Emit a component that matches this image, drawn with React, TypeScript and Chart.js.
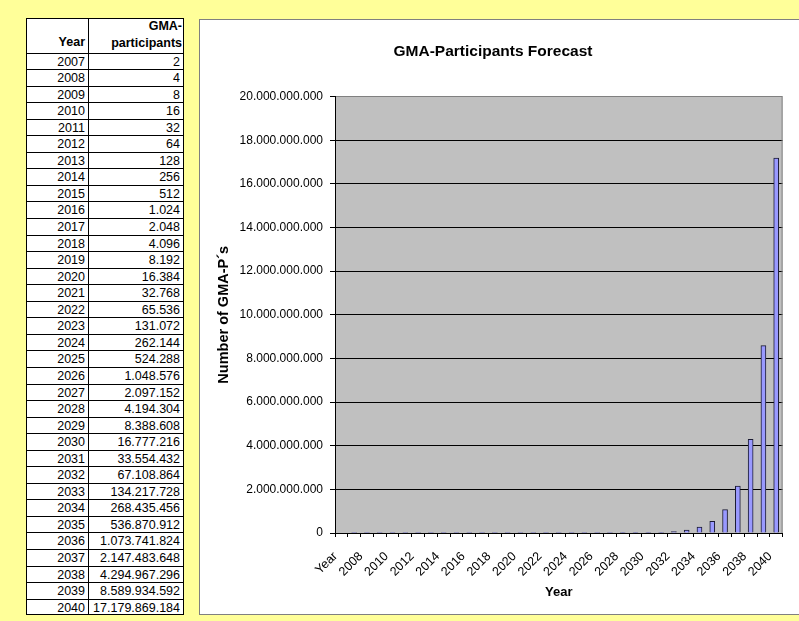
import React, { useEffect, useRef } from 'react';
import { Chart, registerables } from 'chart.js';

Chart.register(...registerables);

const years = [
  '2007', '2008', '2009', '2010', '2011', '2012', '2013', '2014', '2015', '2016',
  '2017', '2018', '2019', '2020', '2021', '2022', '2023', '2024', '2025', '2026',
  '2027', '2028', '2029', '2030', '2031', '2032', '2033', '2034', '2035', '2036',
  '2037', '2038', '2039', '2040',
];

const participants = [
  2, 4, 8, 16, 32, 64, 128, 256, 512, 1024,
  2048, 4096, 8192, 16384, 32768, 65536, 131072, 262144, 524288, 1048576,
  2097152, 4194304, 8388608, 16777216, 33554432, 67108864, 134217728, 268435456, 536870912, 1073741824,
  2147483648, 4294967296, 8589934592, 17179869184,
];

// The chart's category axis starts with the header cell "Year" (no value)
const headerYear = 'Year';
const headerValue = ['GMA-', 'participants'];
const categories = [headerYear, ...years];
const barValues: (number | null)[] = [null, ...participants];

const yMin = 0;
const yMax = 20000000000;
const yStep = 2000000000;

const chartTitle = 'GMA-Participants Forecast';
const xTitle = 'Year';
const yTitle = 'Number of GMA-P´s';

const FONT = "'Liberation Sans', Arial, sans-serif";

const fmt = (n: number) => String(Math.round(n)).replace(/\B(?=(\d{3})+(?!\d))/g, '.');

const plotArea = {
  id: 'plotArea',
  beforeDraw(chart: any) {
    const { ctx, chartArea } = chart;
    const { left, top, right, bottom } = chartArea;
    ctx.save();
    ctx.fillStyle = '#C0C0C0';
    ctx.fillRect(left, top, right - left, bottom - top);
    ctx.restore();
  },
  beforeDatasetsDraw(chart: any) {
    const { ctx, chartArea } = chart;
    const { top, right, bottom } = chartArea;
    ctx.save();
    ctx.strokeStyle = '#808080';
    ctx.lineWidth = 1;
    ctx.beginPath();
    ctx.moveTo(right - 0.5, top);
    ctx.lineTo(right - 0.5, bottom);
    ctx.stroke();
    ctx.restore();
  },
};

function ChartBox() {
  const ref = useRef<HTMLCanvasElement | null>(null);
  useEffect(() => {
    if (!ref.current) return;
    const chart = new Chart(ref.current, {
      type: 'bar',
      data: {
        labels: categories,
        datasets: [
          {
            data: barValues as any,
            backgroundColor: '#9999FF',
            borderColor: '#1A1A33',
            borderWidth: 1,
            barThickness: 5,
            barPercentage: 0.4,
            categoryPercentage: 1.0,
          },
        ],
      },
      options: {
        responsive: false,
        animation: false,
        events: [],
        layout: { padding: { left: 0, right: 13, top: 0, bottom: 0 } },
        plugins: {
          legend: { display: false },
          tooltip: { enabled: false },
          title: {
            display: true,
            text: chartTitle,
            color: '#000',
            font: { family: FONT, size: 15.5, weight: 'bold' },
            padding: { top: 22, bottom: 36 },
          },
        },
        scales: {
          x: {
            type: 'category',
            offset: true,
            afterFit: (s: any) => { s.height = 81; },
            grid: {
              display: true,
              drawOnChartArea: false,
              drawTicks: true,
              tickLength: 4,
              color: '#000',
              tickColor: '#000',
              offset: true,
            },
            border: { display: true, color: '#000', width: 1 },
            ticks: {
              autoSkip: false,
              maxRotation: 45,
              minRotation: 45,
              padding: 12,
              labelOffset: -6,
              color: '#000',
              font: { family: FONT, size: 12.5 },
              callback: (_v: any, i: number) => (i % 2 === 0 ? categories[i] : ''),
            },
            title: {
              display: true,
              text: xTitle,
              color: '#000',
              font: { family: FONT, size: 13, weight: 'bold' },
              padding: { top: 0, bottom: 14 },
            },
          },
          y: {
            min: yMin,
            max: yMax,
            afterFit: (s: any) => { s.width = 135; },
            grid: {
              display: true,
              drawOnChartArea: true,
              drawTicks: true,
              tickLength: 5,
              tickColor: '#000',
              color: (ctx: any) => (ctx.tick && ctx.tick.value === yMax ? '#808080' : '#000'),
              lineWidth: 1,
            },
            border: { display: true, color: '#000', width: 1 },
            ticks: {
              stepSize: yStep,
              padding: 7,
              color: '#000',
              font: { family: FONT, size: 12 },
              callback: (v: any) => fmt(Number(v)),
            },
            title: {
              display: true,
              text: yTitle,
              color: '#000',
              font: { family: FONT, size: 14.5, weight: 'bold' },
              padding: { top: 15, bottom: 0 },
            },
          },
        },
      },
      plugins: [plotArea],
    } as any);
    return () => chart.destroy();
  }, []);

  return (
    <canvas
      ref={ref}
      width={599}
      height={594}
      style={{ position: 'absolute', left: 200, top: 20, width: 599, height: 594 }}
    />
  );
}

const TABLE_LEFT = 26;
const TABLE_SPLIT = 88;
const TABLE_RIGHT = 184;
const TABLE_TOP = 18;
const HEADER_BOTTOM = 52.5;
const ROW_H = 16.55;

function DataTable() {
  const bottom = HEADER_BOTTOM + ROW_H * years.length;
  const cellText: React.CSSProperties = {
    position: 'absolute',
    fontFamily: FONT,
    fontSize: 12.5,
    color: '#000',
    textAlign: 'right',
    whiteSpace: 'nowrap',
  };
  return (
    <>
      <div
        style={{
          position: 'absolute',
          left: TABLE_LEFT,
          top: TABLE_TOP,
          width: TABLE_RIGHT - TABLE_LEFT,
          height: bottom - TABLE_TOP,
          border: '1px solid #000',
          boxSizing: 'border-box',
          background: '#fff',
        }}
      />
      <div
        style={{
          position: 'absolute',
          left: TABLE_SPLIT,
          top: TABLE_TOP,
          width: 1,
          height: bottom - TABLE_TOP,
          background: '#000',
        }}
      />
      {years.map((_, i) => (
        <div
          key={'l' + i}
          style={{
            position: 'absolute',
            left: TABLE_LEFT,
            top: HEADER_BOTTOM + ROW_H * i,
            width: TABLE_RIGHT - TABLE_LEFT,
            height: 1,
            background: '#000',
          }}
        />
      ))}
      <div
        style={{
          ...cellText,
          fontWeight: 'bold',
          left: TABLE_LEFT,
          width: TABLE_SPLIT - TABLE_LEFT - 3,
          top: TABLE_TOP + 16,
          lineHeight: '17px',
        }}
      >
        {headerYear}
      </div>
      <div
        style={{
          ...cellText,
          fontWeight: 'bold',
          left: TABLE_SPLIT,
          width: TABLE_RIGHT - TABLE_SPLIT - 2,
          top: TABLE_TOP,
          lineHeight: '16.5px',
        }}
      >
        {headerValue[0]}
        <br />
        {headerValue[1]}
      </div>
      {years.map((y, i) => (
        <React.Fragment key={'r' + i}>
          <div
            style={{
              ...cellText,
              left: TABLE_LEFT,
              width: TABLE_SPLIT - TABLE_LEFT - 3,
              top: HEADER_BOTTOM + ROW_H * i + 1,
              lineHeight: ROW_H + 'px',
            }}
          >
            {y}
          </div>
          <div
            style={{
              ...cellText,
              left: TABLE_SPLIT,
              width: TABLE_RIGHT - TABLE_SPLIT - 4,
              top: HEADER_BOTTOM + ROW_H * i + 1,
              lineHeight: ROW_H + 'px',
            }}
          >
            {fmt(participants[i])}
          </div>
        </React.Fragment>
      ))}
    </>
  );
}

export default function App() {
  return (
    <div
      style={{
        position: 'absolute',
        left: 0,
        top: 0,
        width: 799,
        height: 621,
        overflow: 'hidden',
        background: '#FFFF99',
      }}
    >
      <DataTable />
      <div
        style={{
          position: 'absolute',
          left: 199,
          top: 19,
          width: 640,
          height: 596,
          border: '1px solid #808080',
          boxSizing: 'border-box',
          background: '#fff',
        }}
      />
      <ChartBox />
    </div>
  );
}
